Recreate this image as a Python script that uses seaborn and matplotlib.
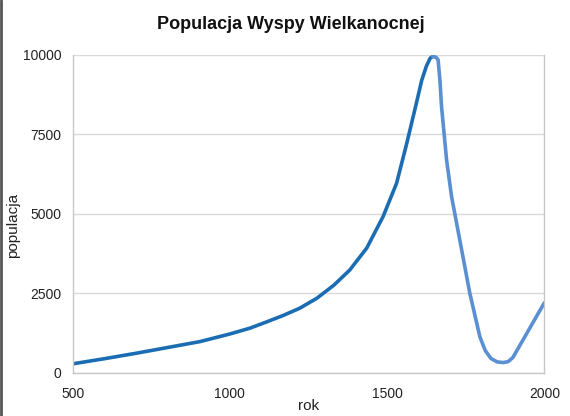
import matplotlib
matplotlib.use("Agg")
import matplotlib.pyplot as plt
import seaborn as sns
import pandas as pd

# growth phase (darker line)
years_up = [500, 600, 700, 800, 905, 1000, 1063, 1117, 1169, 1222, 1276, 1330, 1381,
            1435, 1487, 1530, 1562, 1593, 1610, 1625, 1637, 1645]
pop_up = [280, 440, 610, 790, 980, 1220, 1400, 1600, 1800, 2030, 2340, 2750, 3230,
          3920, 4910, 5960, 7200, 8480, 9200, 9650, 9900, 9950]

# collapse and recovery (lighter line)
years_down = [1645, 1655, 1662, 1668, 1673, 1689, 1705, 1731, 1763, 1795, 1812, 1830,
              1850, 1869, 1885, 1900, 1932, 1965, 2000]
pop_down = [9950, 9930, 9850, 9200, 8380, 6700, 5540, 4180, 2500, 1130, 700, 450,
            340, 320, 350, 480, 1030, 1600, 2200]

df_up = pd.DataFrame({'rok': years_up, 'populacja': pop_up})
df_down = pd.DataFrame({'rok': years_down, 'populacja': pop_down})

sns.set_style('white')
plt.rcParams['font.family'] = ['Liberation Sans', 'DejaVu Sans']

fig = plt.figure(figsize=(5.7, 4.16), dpi=100)
ax = fig.add_axes([0.1275, 0.104, 0.955 - 0.1275, 0.868 - 0.104])

sns.lineplot(data=df_up, x='rok', y='populacja', ax=ax, color='#1b6db3', linewidth=2.6,
             solid_capstyle='round', solid_joinstyle='round')
sns.lineplot(data=df_down, x='rok', y='populacja', ax=ax, color='#5a8fd2', linewidth=2.6,
             solid_capstyle='round', solid_joinstyle='round')

ax.set_xlim(500, 2000)
ax.set_ylim(0, 10000)
ax.set_xticks([500, 1000, 1500, 2000])
ax.set_yticks([0, 2500, 5000, 7500, 10000])
ax.grid(axis='y', color='#d9d9d9', linewidth=1)
ax.set_axisbelow(True)
for s in ax.spines.values():
    s.set_color('#c8c8c8')
    s.set_linewidth(1)
ax.spines['top'].set_visible(False)
ax.tick_params(axis='both', length=4, color='#c8c8c8', labelsize=10, labelcolor='#222222', pad=4)
ax.tick_params(axis='x', pad=6)

ax.set_xlabel('rok', fontsize=11, color='#222222')
ax.set_ylabel('populacja', fontsize=11, color='#222222')
ax.xaxis.set_label_coords(0.5, -0.082)
ax.yaxis.set_label_coords(-0.112, 0.465)
fig.suptitle('Populacja Wyspy Wielkanocnej', fontsize=13, fontweight='bold',
             color='#111111', x=0.51, y=0.962)

# dark border line on the left edge of the screenshot
fig.add_artist(plt.Line2D([0.002, 0.002], [0, 1], transform=fig.transFigure,
                          color='#555555', linewidth=2))

fig.savefig('out.png', dpi=100)
